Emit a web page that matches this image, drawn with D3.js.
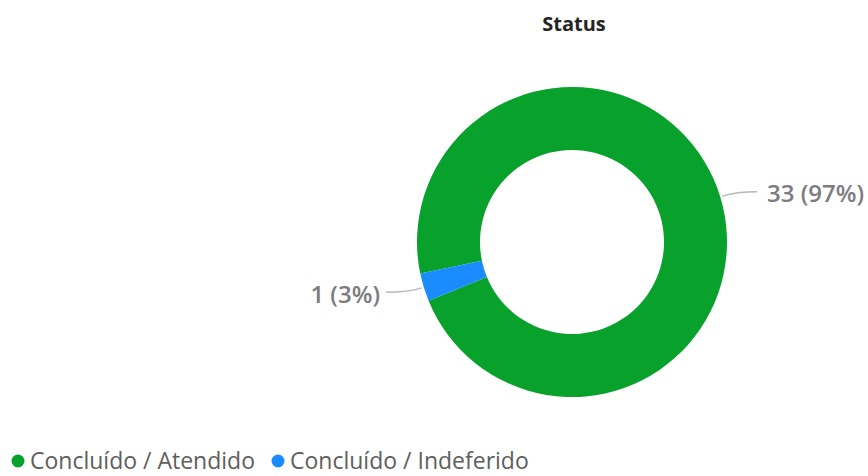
<!DOCTYPE html>
<html lang="pt">
<head>
  <meta charset="UTF-8">
  <title>Status</title>
  <script src="https://d3js.org/d3.v7.min.js"></script>
  <style>
    body { margin: 0; background: #fff; }
    svg { display: block; font-family: "Open Sans", "Noto Sans", sans-serif; }
  </style>
</head>
<body>
  <svg width="868" height="476"></svg>

  <script>
    const categories = ["Concluído / Atendido", "Concluído / Indeferido"];
    const values = [33, 1];
    const colors = ["#07A12B", "#1A8CFF"];

    const data = categories.map((c, i) => ({ name: c, value: values[i] }));
    const total = d3.sum(values);

    const svg = d3.select("svg");
    const cx = 572, cy = 242;
    const outer = 155, inner = 92;

    // the small slice sits just below 9 o'clock
    const start = 258.3 * Math.PI / 180;
    const pie = d3.pie()
      .sort(null)
      .value(d => d.value)
      .startAngle(start)
      .endAngle(start + 2 * Math.PI);

    const arc = d3.arc().innerRadius(inner).outerRadius(outer);

    const color = d3.scaleOrdinal().domain(categories).range(colors);

    const g = svg.append("g").attr("transform", `translate(${cx},${cy})`);

    const arcs = pie(data);

    g.selectAll("path.slice")
      .data(arcs)
      .enter()
      .append("path")
      .attr("class", "slice")
      .attr("d", arc)
      .attr("fill", d => color(d.data.name));

    // point on a radius along the middle of a slice
    function at(d, r) {
      const a = (d.startAngle + d.endAngle) / 2;
      return [r * Math.sin(a), -r * Math.cos(a)];
    }

    // leader lines
    g.selectAll("path.leader")
      .data(arcs)
      .enter()
      .append("path")
      .attr("class", "leader")
      .attr("fill", "none")
      .attr("stroke", "#b8b8b8")
      .attr("stroke-width", 1.5)
      .attr("d", d => {
        const p0 = at(d, outer + 2);
        const p1 = at(d, outer + 17);
        const right = p1[0] > 0;
        const x2 = right ? outer + 30 : -(outer + 31);
        return `M${p0[0]},${p0[1]}Q${p1[0]},${p1[1]} ${x2},${p1[1]}`;
      });

    // data labels
    g.selectAll("text.label")
      .data(arcs)
      .enter()
      .append("text")
      .attr("class", "label")
      .attr("x", d => at(d, 1)[0] > 0 ? outer + 40 : -(outer + 37))
      .attr("y", d => at(d, outer + 17)[1] + 2)
      .attr("dy", "0.35em")
      .attr("text-anchor", d => at(d, 1)[0] > 0 ? "start" : "end")
      .style("font-size", "24px")
      .style("font-weight", "600")
      .style("fill", "#7c7c80")
      .text(d => `${d.data.value} (${Math.round(d.data.value / total * 100)}%)`);

    // chart title
    svg.append("text")
      .attr("x", 574)
      .attr("y", 24)
      .attr("dy", "0.35em")
      .attr("text-anchor", "middle")
      .style("font-size", "20px")
      .style("font-weight", "700")
      .style("fill", "#252423")
      .text("Status");

    // legend
    const legend = svg.append("g").attr("transform", "translate(0,461)");
    let lx = 18;
    categories.forEach((c, i) => {
      legend.append("circle")
        .attr("cx", lx)
        .attr("cy", 0)
        .attr("r", 6.5)
        .attr("fill", colors[i]);
      const t = legend.append("text")
        .attr("x", lx + 12)
        .attr("y", 0)
        .attr("dy", "0.33em")
        .style("font-size", "23px")
        .style("fill", "#605e5c")
        .text(c);
      lx += 12 + t.node().getComputedTextLength() + 23;
    });
  </script>
</body>
</html>
